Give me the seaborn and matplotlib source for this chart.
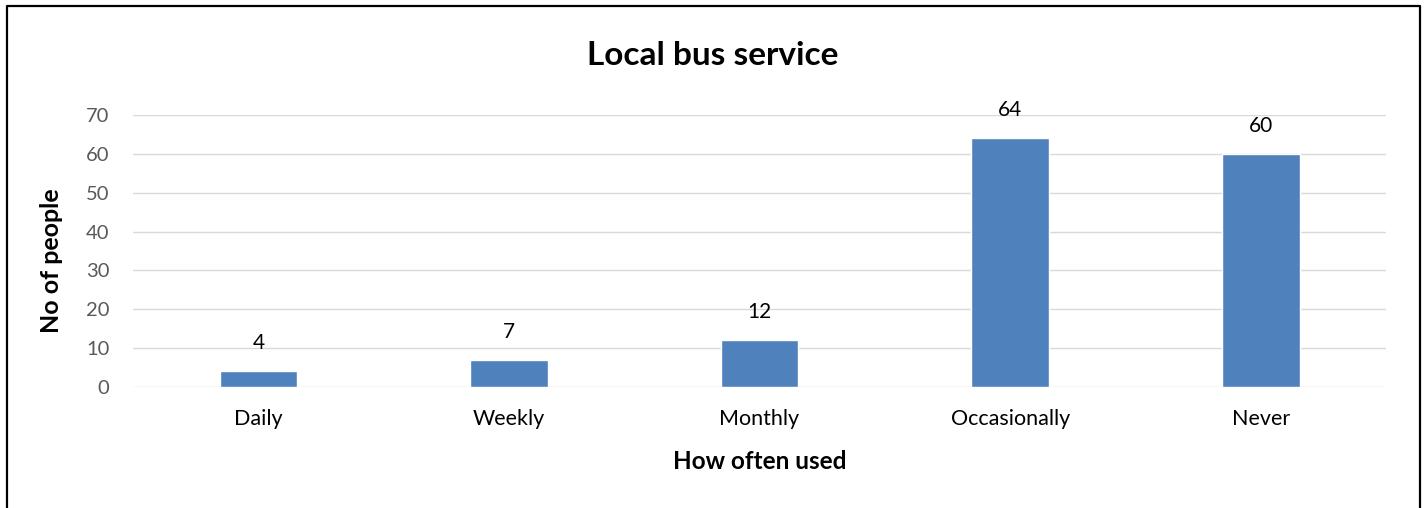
import matplotlib
matplotlib.use('Agg')
import matplotlib.pyplot as plt
import seaborn as sns
import pandas as pd
from matplotlib.lines import Line2D

# data
categories = ['Daily', 'Weekly', 'Monthly', 'Occasionally', 'Never']
people = [4, 7, 12, 64, 60]
y_ticks = [0, 10, 20, 30, 40, 50, 60, 70]

sns.set_theme(style='white')
plt.rcParams['font.family'] = ['Lato', 'DejaVu Sans']
plt.rcParams['text.color'] = 'black'
plt.rcParams['axes.labelcolor'] = 'black'

df = pd.DataFrame({'freq': categories, 'count': people})

fig = plt.figure(figsize=(14.26, 5.08), dpi=100)
ax = fig.add_axes([0.0933, 0.2382, 0.8787, 0.5354])

sns.barplot(data=df, x='freq', y='count', color='#4F81BD', saturation=1,
            width=0.31, ax=ax, zorder=3)

ax.set_ylim(0, 70)
ax.set_yticks(y_ticks)
ax.set_xlim(-0.5, len(categories) - 0.5)
ax.grid(True, axis='y', color='#D9D9D9', linewidth=1.0, zorder=0)
for s in ax.spines.values():
    s.set_visible(False)
ax.tick_params(axis='y', labelsize=14.5, labelcolor='#595959', length=0, pad=17)
ax.tick_params(axis='x', labelsize=15.5, labelcolor='black', length=0, pad=16)

# value labels
for i, v in enumerate(people):
    ax.annotate(str(v), (i, v), xytext=(0, 13), textcoords='offset points',
                ha='center', va='bottom', fontsize=15, color='black')

ax.set_xlabel('How often used', fontsize=17.5, fontweight='bold', labelpad=15)
ax.set_ylabel('No of people', fontsize=18, fontweight='bold')
ax.yaxis.set_label_coords(-0.056, 0.463)

fig.text(0.5, 0.891, 'Local bus service', ha='center', va='center',
         fontsize=24, fontweight='bold', color='black')

# outer chart border (left, top, right)
W, H = 1426, 508
xl, xr, yt = 7 / W, 1420 / W, 1 - 6 / H
fig.add_artist(Line2D([xl, xl, xr, xr], [0, yt, yt, 0], color='black',
                      linewidth=1.6, transform=fig.transFigure))

fig.savefig('out.png', dpi=100, facecolor='white')
